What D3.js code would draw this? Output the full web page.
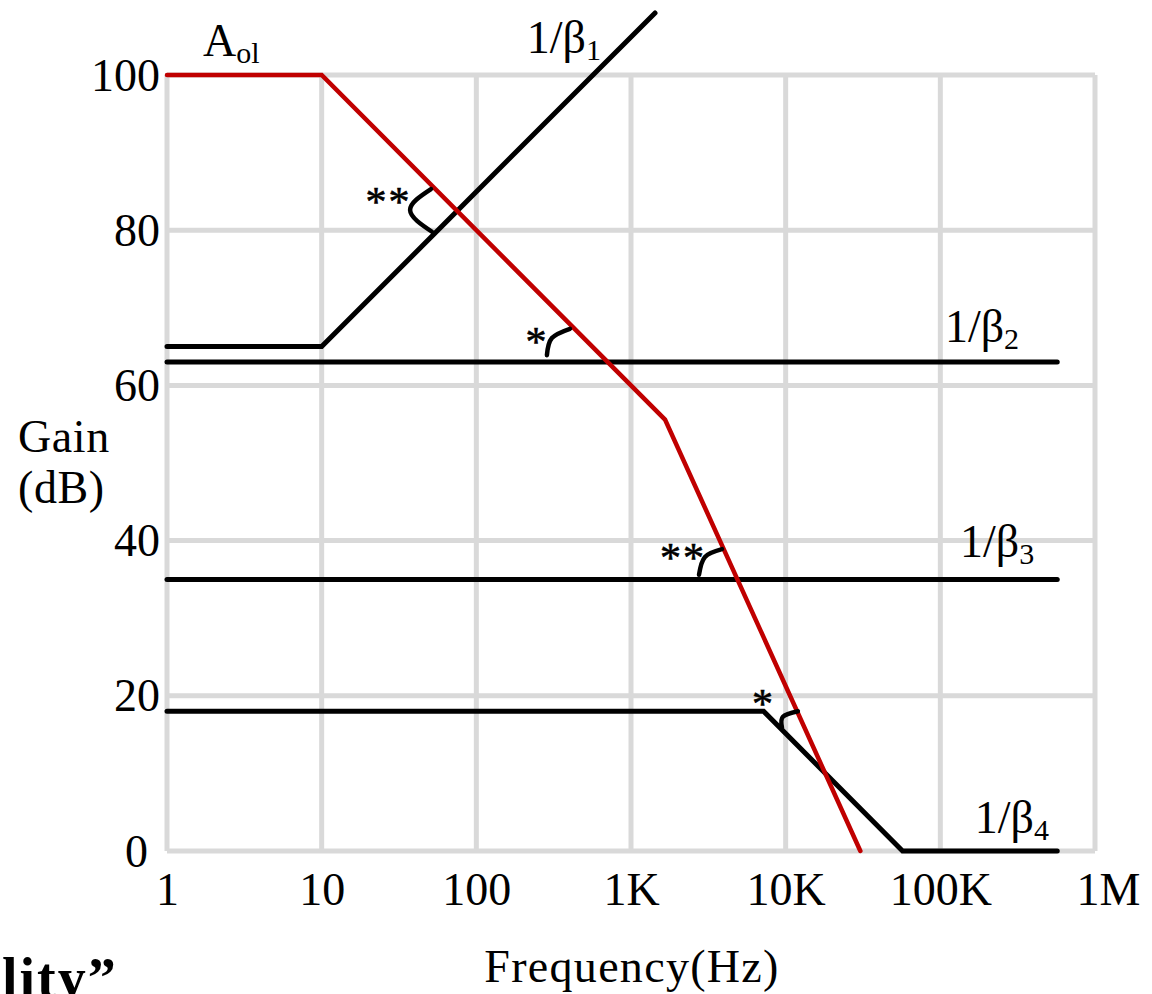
<!DOCTYPE html>
<html>
<head>
<meta charset="utf-8">
<script src="https://cdn.jsdelivr.net/npm/d3@7"></script>
<style>
  html, body { margin: 0; padding: 0; background: #fff; }
  svg { display: block; }
  text { font-family: "Liberation Serif", "Times New Roman", serif; fill: #000; }
</style>
</head>
<body>
<svg id="chart" width="1152" height="994"></svg>
<script>
// ---------------- data ----------------
const xTickValues = [1, 10, 100, 1e3, 1e4, 1e5, 1e6];
const xTickLabels = ["1", "10", "100", "1K", "10K", "100K", "1M"];
const yTickValues = [0, 20, 40, 60, 80, 100];
const yTickLabels = ["0", "20", "40", "60", "80", "100"];

// open-loop gain A_ol
const aolFreq = [1, 10, 1660, 30400];
const aolGain = [100, 100, 55.6, 0];
// noise-gain curves 1/beta
const beta1Freq = [1, 10, 1430];
const beta1Gain = [65, 65, 108];
const beta2Freq = [1, 570000];
const beta2Gain = [63, 63];
const beta3Freq = [1, 570000];
const beta3Gain = [35, 35];
const beta4Freq = [1, 7200, 57000, 570000];
const beta4Gain = [18, 18, 0, 0];

// angle marks (start, middle, end) in [freq, dB]
const arcMarks = [
  { pts: [[50.9, 85.3], [37.3, 82.6], [51.7, 79.8]], label: "**", at: [27.0, 81.8] },
  { pts: [[403, 67.3], [308, 66.1], [286, 63.9]], label: "*", at: [247, 63.8] },
  { pts: [[3875, 38.9], [3008, 37.9], [2752, 35.6]], label: "**", at: [2168, 36.0] },
  { pts: [[12000, 18.0], [9600, 17.3], [9470, 15.9]], label: "*", at: [7200, 17.1] }
];

// curve labels: main text, subscript, anchor [freq, dB]
const curveLabels = [
  { main: "A", sub: "ol", at: [1.71, 102.4] },
  { main: "1/β", sub: "1", at: [212, 102.8] },
  { main: "1/β", sub: "2", at: [107000, 65.6] },
  { main: "1/β", sub: "3", at: [134000, 37.9] },
  { main: "1/β", sub: "4", at: [167000, 2.3] }
];

// ---------------- drawing ----------------
const svg = d3.select("#chart");
const x = d3.scaleLog().domain([1, 1e6]).range([167, 1095]);
const y = d3.scaleLinear().domain([0, 100]).range([851, 75]);

const gridColor = "#d9d9d9";
const grid = svg.append("g");
grid.selectAll("line.v").data(xTickValues).join("line")
  .attr("x1", d => x(d)).attr("x2", d => x(d))
  .attr("y1", y(0)).attr("y2", y(100))
  .attr("stroke", gridColor).attr("stroke-width", 5);
grid.selectAll("line.h").data(yTickValues).join("line")
  .attr("y1", d => y(d)).attr("y2", d => y(d))
  .attr("x1", x(1)).attr("x2", x(1e6))
  .attr("stroke", gridColor).attr("stroke-width", 5);

// axis tick labels
const xAxis = d3.axisBottom(x).tickValues(xTickValues)
  .tickFormat((d, i) => xTickLabels[i]).tickSize(0).tickPadding(0);
const gx = svg.append("g").attr("transform", `translate(0,${y(0)})`).call(xAxis);
gx.select(".domain").remove();
gx.selectAll("text").attr("font-size", 46).attr("dy", null).attr("y", 54)
  .attr("x", d => d === 1e6 ? 13 : 0)
  .attr("font-family", "Liberation Serif").attr("fill", "#000");

const yAxis = d3.axisLeft(y).tickValues(yTickValues)
  .tickFormat((d, i) => yTickLabels[i]).tickSize(0).tickPadding(0);
const gy = svg.append("g").attr("transform", `translate(${x(1)},0)`).call(yAxis);
gy.select(".domain").remove();
gy.selectAll("text").attr("font-size", 46).attr("dy", "0.33em")
  .attr("x", d => d === 0 ? -19 : -7)
  .attr("font-family", "Liberation Serif").attr("fill", "#000");

// axis titles
svg.append("text").attr("x", 18).attr("y", 452).attr("font-size", 46)
  .attr("letter-spacing", 0.6).text("Gain");
svg.append("text").attr("x", 18).attr("y", 503).attr("font-size", 46)
  .attr("letter-spacing", 0.6).text("(dB)");
svg.append("text").attr("x", 632).attr("y", 982).attr("text-anchor", "middle")
  .attr("font-size", 46).attr("letter-spacing", 1.3).text("Frequency(Hz)");
svg.append("text").attr("x", 2).attr("y", 997).attr("font-size", 56)
  .attr("font-weight", "bold").attr("letter-spacing", 2).text("lity”");

// curves
const line = d3.line().x(d => x(d[0])).y(d => y(d[1]));
const zip = (f, g) => f.map((v, i) => [v, g[i]]);
const curves = [
  { data: zip(beta1Freq, beta1Gain), color: "#000" },
  { data: zip(beta2Freq, beta2Gain), color: "#000" },
  { data: zip(beta3Freq, beta3Gain), color: "#000" },
  { data: zip(beta4Freq, beta4Gain), color: "#000" },
  { data: zip(aolFreq, aolGain), color: "#c00000" }
];
svg.append("g").selectAll("path").data(curves).join("path")
  .attr("d", d => line(d.data))
  .attr("fill", "none").attr("stroke", d => d.color)
  .attr("stroke-width", d => d.color === "#000" ? 5 : 4.5)
  .attr("stroke-linecap", "round").attr("stroke-linejoin", "miter");

// angle marks
const arcLine = d3.line().x(d => x(d[0])).y(d => y(d[1])).curve(d3.curveNatural);
const marks = svg.append("g");
marks.selectAll("path").data(arcMarks).join("path")
  .attr("d", d => arcLine(d.pts))
  .attr("fill", "none").attr("stroke", "#000").attr("stroke-width", 4.5)
  .attr("stroke-linecap", "round");
marks.selectAll("text").data(arcMarks).join("text")
  .attr("x", d => x(d.at[0])).attr("y", d => y(d.at[1]))
  .attr("text-anchor", "middle").attr("font-size", 42)
  .attr("font-family", "DejaVu Sans").attr("letter-spacing", 2)
  .attr("stroke", "#000").attr("stroke-width", 0.6)
  .text(d => d.label);

// curve labels
const lbl = svg.append("g").selectAll("text").data(curveLabels).join("text")
  .attr("x", d => x(d.at[0])).attr("y", d => y(d.at[1]))
  .attr("font-size", 46);
lbl.append("tspan").text(d => d.main);
lbl.append("tspan").attr("font-size", 30).attr("dy", 7).text(d => d.sub);
</script>
</body>
</html>
